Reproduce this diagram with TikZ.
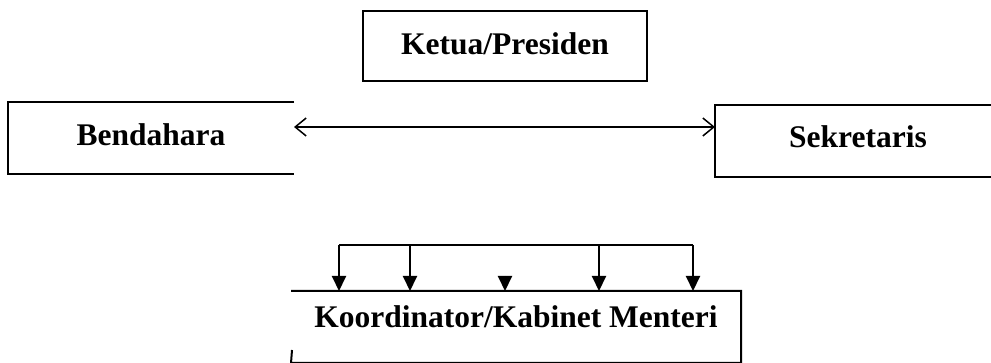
\documentclass[tikz,border=0pt]{standalone}
\usepackage{fontspec}
\setmainfont{Liberation Serif}
\usetikzlibrary{arrows.meta}
\begin{document}
\begin{tikzpicture}[x=1pt,y=-1pt,
  line width=2pt,
  boxtext/.style={font=\fontsize{31.5}{36}\selectfont\bfseries, inner sep=0pt, minimum height=70pt},
  tri/.style={-{Triangle[width=14pt,length=15pt]}},
  barb/.style={{Straight Barb[length=11pt,width=18pt,line width=1.5pt]}-{Straight Barb[length=11pt,width=18pt,line width=1.5pt]}}]
\useasboundingbox (0,0) rectangle (991,363);
% Ketua
\node[boxtext, draw, minimum width=284pt, text depth=4pt] (ket) at (505,46) {Ketua/Presiden};
% Bendahara (open right side)
\node[boxtext, minimum width=284pt, text depth=6pt] (ben) at (151,138) {Bendahara};
\draw (ben.north east) -- (ben.north west) -- (ben.south west) -- (ben.south east);
% Sekretaris (right side beyond picture)
\node[boxtext, minimum width=275pt, text width=275pt, align=center, text depth=8pt] (sek) at (853.5,141) {\hspace*{9pt}Sekretaris};
\draw (sek.north east) -- (sek.north west) -- (sek.south west) -- (sek.south east);
% double arrow
\draw[barb] (ben.east |- 0,127) -- (sek.west |- 0,127);
% Koordinator
\node[boxtext, minimum width=448pt, text depth=20pt] (koo) at (516,327) {Koordinator/Kabinet Menteri};
\coordinate (lt) at (292,350);
\draw (koo.north west) -- (koo.north east) -- (koo.south east) -- (koo.south west) -- (lt);
% bracket
\coordinate (b1) at (339,245);
\coordinate (b2) at (410,245);
\coordinate (b3) at (599,245);
\coordinate (b4) at (693,245);
\coordinate (bm) at (505,276);
\draw (b1) -- (b4);
\draw[tri] (b1) -- (b1 |- koo.north);
\draw[tri] (b2) -- (b2 |- koo.north);
\draw[tri] (b3) -- (b3 |- koo.north);
\draw[tri] (b4) -- (b4 |- koo.north);
\draw[tri] (bm) -- (bm |- koo.north);
\end{tikzpicture}
\end{document}
